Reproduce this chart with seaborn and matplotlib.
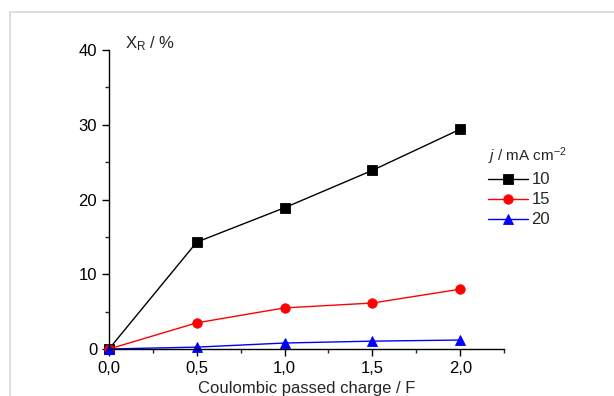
import pandas as pd
import numpy as np
import matplotlib
matplotlib.use('Agg')
import matplotlib.pyplot as plt
import seaborn as sns
from matplotlib.ticker import MultipleLocator, FuncFormatter
from matplotlib.patches import Rectangle

# Datos
charge = [0.0, 0.5, 1.0, 1.5, 2.0]
xr_10 = [0.0, 14.3, 18.9, 23.9, 29.4]
xr_15 = [0.0, 3.5, 5.5, 6.15, 8.0]
xr_20 = [0.0, 0.25, 0.8, 1.05, 1.2]
densities = ['10', '15', '20']
colors = ['black', 'red', 'blue']
markers = ['s', 'o', '^']

df = pd.DataFrame({
    'charge': charge * 3,
    'xr': xr_10 + xr_15 + xr_20,
    'j': [d for d in densities for _ in charge],
})

sns.set_style('ticks')
plt.rcParams['font.family'] = ['Liberation Sans', 'DejaVu Sans']
plt.rcParams['mathtext.fontset'] = 'custom'
plt.rcParams['mathtext.rm'] = 'Liberation Sans'
plt.rcParams['mathtext.it'] = 'Liberation Sans:italic'

fig = plt.figure(figsize=(6.14, 3.96), dpi=100)
ax = fig.add_axes([0.1775, 0.1187, 0.6435, 0.755])

sns.lineplot(data=df, x='charge', y='xr', hue='j', style='j',
             palette=colors, markers=markers, dashes=False,
             markersize=6.8, linewidth=1.0, markeredgewidth=0.6,
             ax=ax, clip_on=False)
for line in ax.lines:
    line.set_markeredgecolor(line.get_color())

ax.set_xlim(0, 2.25)
ax.set_ylim(0, 40)
ax.xaxis.set_major_locator(MultipleLocator(0.5))
ax.xaxis.set_minor_locator(MultipleLocator(0.25))
ax.yaxis.set_major_locator(MultipleLocator(10))
ax.yaxis.set_minor_locator(MultipleLocator(5))
ax.xaxis.set_major_formatter(FuncFormatter(lambda v, p: f'{v:.1f}'.replace('.', ',')))
ax.tick_params(which='major', direction='out', length=5, width=1, labelsize=12, colors='black')
ax.tick_params(which='minor', direction='out', length=3, width=1)
for s in ['left', 'bottom']:
    ax.spines[s].set_linewidth(1)
    ax.spines[s].set_color('black')
sns.despine(ax=ax)

ax.set_xlabel('Coulombic passed charge / F', fontsize=12, labelpad=4)
ax.set_ylabel('')
ax.text(0.04, 1.02, r'X$_{\mathrm{R}}$ / %', transform=ax.transAxes,
        fontsize=12, va='center', ha='left')

leg = ax.legend(title=r'$\it{j}$ / mA cm$^{-2}$', frameon=False, fontsize=12,
                title_fontsize=11, loc='upper left', bbox_to_anchor=(0.922, 0.73),
                handlelength=2.4, handletextpad=0.2, labelspacing=0.3)
leg._legend_box.align = 'left'

# marco gris del lienzo
fig.add_artist(Rectangle((10 / 614, -0.1), 1.2, 1 - 12 / 396 + 0.1,
                         transform=fig.transFigure, fill=False,
                         edgecolor='#d8d8d8', linewidth=1.2))

fig.savefig('out.png', dpi=100)
